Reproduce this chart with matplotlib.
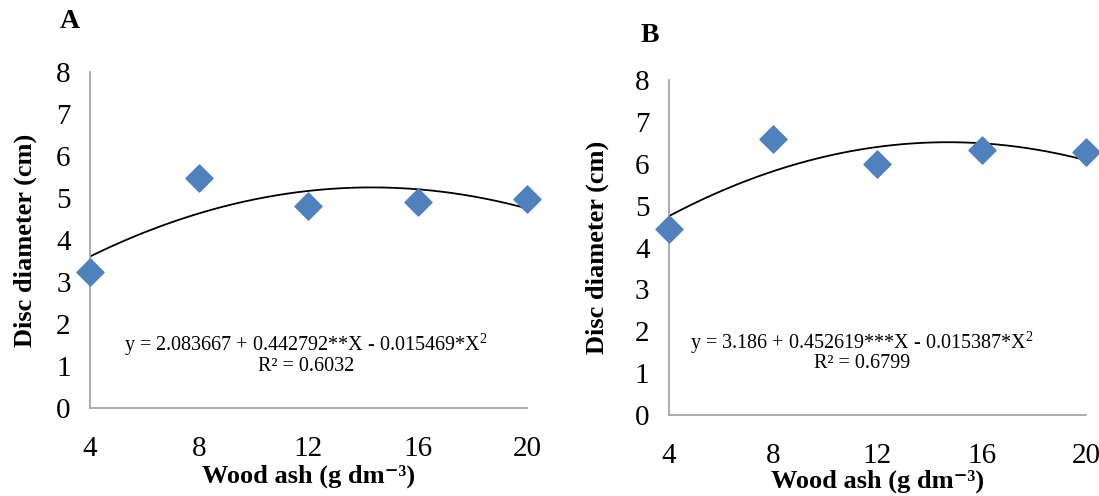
import numpy as np
import matplotlib
matplotlib.use("Agg")
import matplotlib.pyplot as plt

plt.rcParams['font.family'] = ['Liberation Serif', 'DejaVu Serif']
plt.rcParams['mathtext.fontset'] = 'custom'
plt.rcParams['mathtext.rm'] = 'Liberation Serif'
plt.rcParams['mathtext.bf'] = 'Liberation Serif:bold'

wood_ash = [4, 8, 12, 16, 20]
disc_a = [3.25, 5.47, 4.80, 4.90, 4.98]
disc_b = [4.45, 6.60, 6.00, 6.32, 6.27]
coef_a = [2.083667, 0.442792, -0.015469]
coef_b = [3.186, 0.452619, -0.015387]
eq_a = "y = 2.083667 + 0.442792**X - 0.015469*X$^{2}$"
eq_b = "y = 3.186 + 0.452619***X - 0.015387*X$^{2}$"
r2_a = "R² = 0.6032"
r2_b = "R² = 0.6799"
x_label = "Wood ash (g dm⁻³)"
y_label = "Disc diameter (cm)"
panel_labels = ["A", "B"]

fig = plt.figure(figsize=(10.99, 4.96), dpi=100)
axA = fig.add_axes([0.0819, 0.1774, 0.3976, 0.6774])
axB = fig.add_axes([0.6087, 0.1633, 0.3795, 0.6754])

def draw(ax, y, coef, eq, r2, eqx, eqy, r2y, xl_y, yl_x):
    xs = np.linspace(4, 20, 200)
    ax.plot(xs, coef[0] + coef[1]*xs + coef[2]*xs**2, color='black', lw=1.3, zorder=2)
    ax.scatter(wood_ash, y, marker='D', s=190, color='#4f81bd', zorder=3, clip_on=False)
    ax.set_xlim(4, 20)
    ax.set_ylim(0, 8)
    ax.set_xticks(wood_ash)
    ax.set_yticks(range(0, 9))
    for s in ['top', 'right']:
        ax.spines[s].set_visible(False)
    for s in ['left', 'bottom']:
        ax.spines[s].set_color('#a6a6a6')
        ax.spines[s].set_linewidth(1.3)
    ax.tick_params(length=0, labelsize=21)
    ax.tick_params(axis='y', pad=14)
    ax.tick_params(axis='x', pad=20)
    ax.set_xlabel(x_label, fontsize=19, fontweight='bold',
                  family=['Liberation Serif', 'DejaVu Serif'])
    ax.set_ylabel(y_label, fontsize=19, fontweight='bold')
    ax.xaxis.set_label_coords(0.5, xl_y)
    ax.xaxis.label.set_va('center')
    ax.yaxis.set_label_coords(yl_x, 0.5)
    ax.yaxis.label.set_va('center')
    ax.text(eqx, eqy, eq, fontsize=14.5, ha='center', va='center')
    ax.text(eqx, r2y, r2, fontsize=14.5, ha='center', va='center')

draw(axA, disc_a, coef_a, eq_a, r2_a, 11.9, 1.5, 1.0, -0.203, -0.149)
draw(axB, disc_b, coef_b, eq_b, r2_b, 11.4, 1.74, 1.22, -0.197, -0.173)

fig.text(70/1099, 1-22/496, panel_labels[0], fontsize=20, fontweight='bold', ha='center', va='center')
fig.text(650/1099, 1-35/496, panel_labels[1], fontsize=20, fontweight='bold', ha='center', va='center')

fig.savefig("out.png", dpi=100)
